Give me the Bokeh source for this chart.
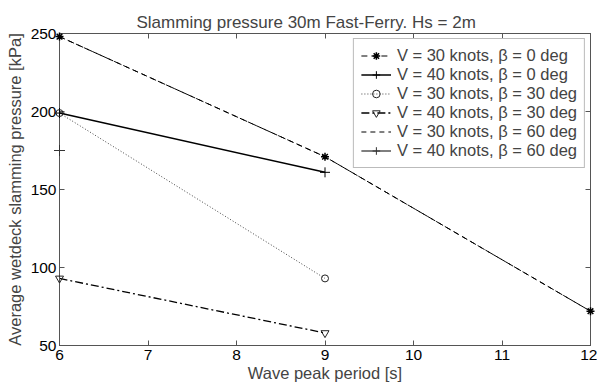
from bokeh.plotting import figure
from bokeh.models import LinearAxis, Range1d, Legend, LegendItem, FixedTicker
from bokeh.embed import file_html
from bokeh.resources import INLINE

# Data
x_30_b0 = [6, 9, 12]
y_30_b0 = [248, 171, 72]
x_40_b0 = [6, 9]
y_40_b0 = [199, 161]
x_30_b30 = [6, 9]
y_30_b30 = [199, 93]
x_40_b30 = [6, 9]
y_40_b30 = [93, 58]
x_30_b60 = [6, 9, 12]
y_30_b60 = [248, 171, 72]
x_40_b60 = [6]
y_40_b60 = [175]

labels = ["V = 30 knots, \u03b2 = 0 deg", "V = 40 knots, \u03b2 = 0 deg",
          "V = 30 knots, \u03b2 = 30 deg", "V = 40 knots, \u03b2 = 30 deg",
          "V = 30 knots, \u03b2 = 60 deg", "V = 40 knots, \u03b2 = 60 deg"]
x_ticks = [6, 7, 8, 9, 10, 11, 12]
y_ticks = [50, 100, 150, 200, 250]

FONT = "Liberation Sans"
AX = "#555555"

p = figure(width=597, height=389, output_backend="svg", toolbar_location=None,
           x_range=Range1d(6, 12), y_range=Range1d(50, 250),
           title="Slamming pressure 30m Fast-Ferry. Hs = 2m",
           min_border_left=59, min_border_right=7, min_border_top=33, min_border_bottom=44)
p.title.align = "left"
p.title.offset = 77
p.title.text_font = FONT
p.title.text_font_size = "17px"
p.title.text_font_style = "normal"
p.title.standoff = 4
p.grid.visible = False
p.outline_line_color = AX

for ax, tk in ((p.xaxis[0], x_ticks), (p.yaxis[0], y_ticks)):
    ax.ticker = FixedTicker(ticks=tk)
    ax.major_tick_in = 5
    ax.major_tick_out = 0
    ax.minor_tick_line_color = None
    ax.axis_line_color = AX
    ax.major_tick_line_color = AX
    ax.major_label_text_font = FONT
    ax.major_label_text_font_size = "15.5px"
    ax.major_label_text_color = "black"
    ax.axis_label_text_font = FONT
    ax.axis_label_text_font_size = "16.5px"
    ax.axis_label_text_font_style = "normal"

p.xaxis.major_label_standoff = 4
p.xaxis.axis_label_standoff = 1
p.yaxis.major_label_standoff = 3
p.yaxis.axis_label_standoff = 4

p.xaxis.axis_label = "Wave peak period [s]"
p.yaxis.axis_label = "Average wetdeck slamming pressure [kPa]"

top = LinearAxis(ticker=FixedTicker(ticks=x_ticks),
                 major_label_overrides={t: "" for t in x_ticks},
                 major_tick_in=5, major_tick_out=0, minor_tick_line_color=None,
                 axis_line_color=AX, major_tick_line_color=AX)
right = LinearAxis(ticker=FixedTicker(ticks=y_ticks),
                   major_label_overrides={t: "" for t in y_ticks},
                   major_tick_in=5, major_tick_out=0, minor_tick_line_color=None,
                   axis_line_color=AX, major_tick_line_color=AX)
p.add_layout(top, "above")
p.add_layout(right, "right")

items = []
r1 = p.line(x_30_b0, y_30_b0, line_color="black", line_dash="6 4", line_width=1)
m1 = p.scatter(x_30_b0, y_30_b0, marker="asterisk", size=8, line_color="black",
               line_width=1.5, level="overlay")
items.append(LegendItem(label=labels[0], renderers=[r1, m1]))

r2 = p.line(x_40_b0, y_40_b0, line_color="black", line_width=1.5)
m2 = p.scatter(x_40_b0, y_40_b0, marker="cross", size=10, line_color="black",
               line_width=1, level="overlay")
items.append(LegendItem(label=labels[1], renderers=[r2, m2]))

r3 = p.line(x_30_b30, y_30_b30, line_color="#444444", line_dash="1 2", line_width=1)
m3 = p.scatter(x_30_b30, y_30_b30, marker="circle", size=7, line_color="#222222",
               fill_color=None, line_width=1, level="overlay")
items.append(LegendItem(label=labels[2], renderers=[r3, m3]))

r4 = p.line(x_40_b30, y_40_b30, line_color="black", line_dash="8 3 2 3", line_width=1.3)
m4 = p.scatter(x_40_b30, y_40_b30, marker="inverted_triangle", size=8, line_color="#222222",
               fill_color=None, line_width=1, level="overlay")
items.append(LegendItem(label=labels[3], renderers=[r4, m4]))

r5 = p.line(x_30_b60, y_30_b60, line_color="black", line_dash="5 4", line_width=1)
items.append(LegendItem(label=labels[4], renderers=[r5]))

r6 = p.line(x_40_b60, y_40_b60, line_color="#555555", line_width=1.5)
m6 = p.scatter(x_40_b60, y_40_b60, marker="cross", size=11, line_color="#333333",
               line_width=1, level="overlay")
items.append(LegendItem(label=labels[5], renderers=[r6, m6]))

legend = Legend(items=items, location="top_right")
legend.label_text_font = FONT
legend.label_text_font_size = "16.5px"
legend.label_height = 19
legend.glyph_height = 19
legend.glyph_width = 30
legend.spacing = 0
legend.padding = 7
legend.margin = 5
legend.border_line_color = "#777777"
legend.label_standoff = 6
p.add_layout(legend)

open("out.html", "w").write(file_html(p, INLINE))
